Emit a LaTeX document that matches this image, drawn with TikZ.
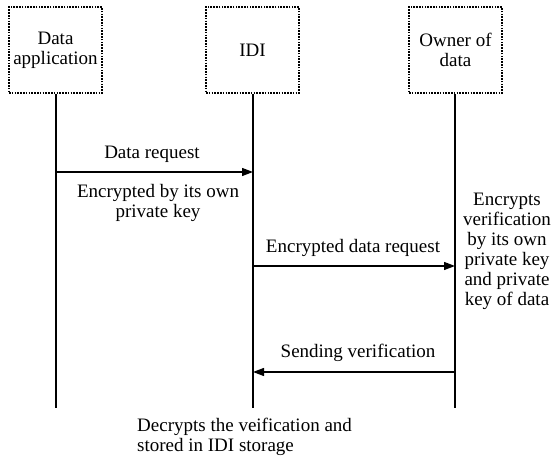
\documentclass[tikz,border=0pt]{standalone}
\usepackage{fontspec}
\setmainfont{Liberation Serif}
\usetikzlibrary{arrows.meta}
\begin{document}
\begin{tikzpicture}[x=1pt,y=-1pt,
  every node/.style={font=\fontsize{19}{20}\selectfont, inner sep=0pt},
  actor/.style={draw, line width=1.8pt, dash pattern=on 1.6pt off 1.2pt,
    minimum width=93pt, minimum height=86pt, align=center},
  life/.style={line width=1.6pt},
  msg/.style={line width=1.3pt, -{Triangle[length=11pt,width=8pt]}},
  note/.style={align=center}]
  \useasboundingbox (0,0) rectangle (552,462);

  % participants
  \node[actor] (app) at (55.5,50) {Data\\application};
  \node[actor] (idi) at (252.5,50) {IDI};
  \node[actor] (own) at (455.5,50) {Owner of\\data};

  % lifeline ends
  \coordinate (appEnd) at (56,408);
  \coordinate (idiEnd) at (253,408);
  \coordinate (ownEnd) at (455,408);
  \draw[life] (app.south -| appEnd) -- (appEnd);
  \draw[life] (idi.south -| idiEnd) -- (idiEnd);
  \draw[life] (own.south -| ownEnd) -- (ownEnd);

  % messages
  \coordinate (m1s) at (56,172);  \coordinate (m1e) at (253,172);
  \coordinate (m2s) at (253,266); \coordinate (m2e) at (455,266);
  \coordinate (m3s) at (455,372); \coordinate (m3e) at (253,372);
  \draw[msg] (m1s) -- (m1e);
  \draw[msg] (m2s) -- (m2e);
  \draw[msg] (m3s) -- (m3e);

  \node (l1) at (152,154) {Data request};
  \node (l2) at (353,248) {Encrypted data request};
  \node (l3) at (358,353) {Sending verification};

  % annotations
  \node[note] (n1) at (158,203) {Encrypted by its own\\private key};
  \node[note] (n2) at (507,251) {Encrypts\\verification\\by its own\\private key\\and private\\key of data};
  \node[align=left, anchor=west] (n3) at (137,437) {Decrypts the veification and\\stored in IDI storage};
\end{tikzpicture}
\end{document}
